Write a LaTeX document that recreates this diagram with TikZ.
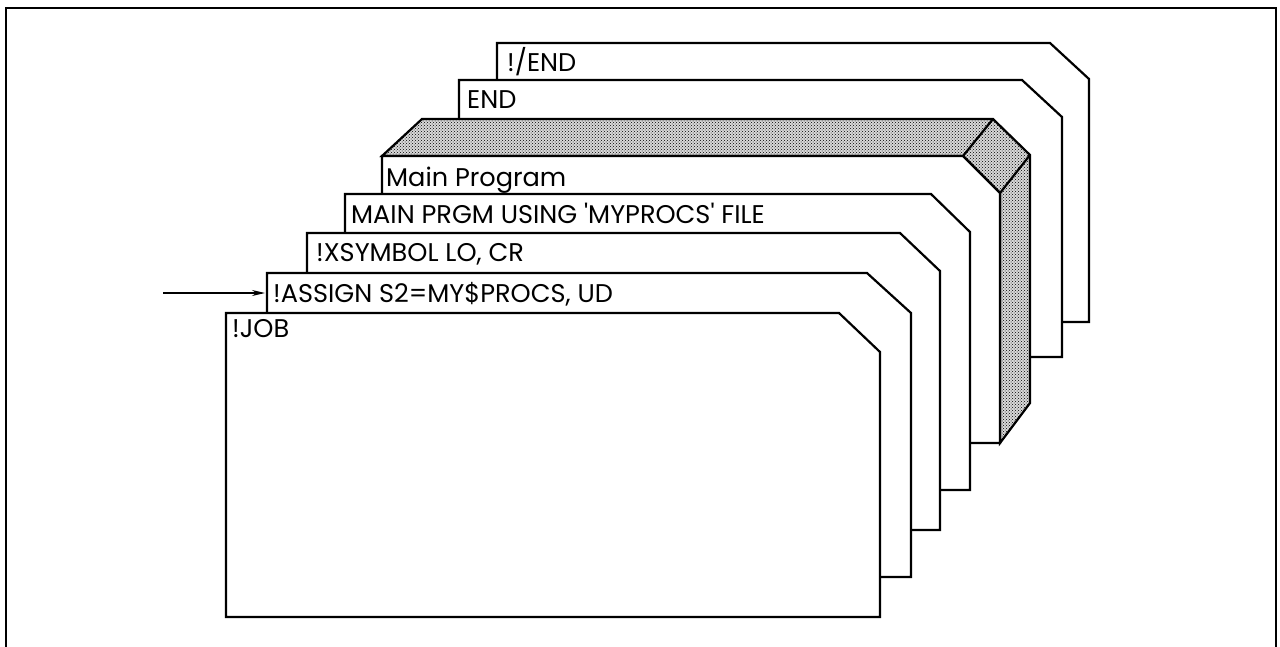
\documentclass[tikz,border=0pt]{standalone}
\usepackage{fontspec}
\setmainfont{Poppins}
\usetikzlibrary{patterns,arrows.meta}
\tikzset{
  cardline/.style={line width=2.2pt, draw=black, fill=white, line join=miter},
  deck/.style={line width=2.2pt, draw=black, preaction={fill=gray!30}, pattern=crosshatch dots, pattern color=black},
  lbl/.style={inner sep=0pt, anchor=base west, font=\fontsize{25.6}{27}\selectfont},
  frame/.style={line width=2.8pt},
  feed/.style={line width=1.4pt, -{Stealth[length=13pt,width=6pt]}}
}
% l t r b chamfer-x chamfer-y
\newcommand\cardshape[6]{%
  \filldraw[cardline] (#1,#4) -- (#1,#2) -- (#5,#2) -- (#3,#6) -- (#3,#4) -- cycle;}
\begin{document}
\begin{tikzpicture}[x=1pt,y=-1pt]
\useasboundingbox (0,0) rectangle (1280,646);
\draw[frame] (6,652) -- (6,8) -- (1276,8) -- (1276,652);
% back cards
\cardshape{497}{43}{1089}{322}{1050}{79}
\node[lbl] (tslend) at (507,71) {!/END};
\cardshape{459}{80}{1062}{357}{1022}{117}
\node[lbl] (tend) at (467,108) {END};
% main program deck thickness
\filldraw[deck] (382,156) -- (422,119) -- (993,119) -- (1030,155) -- (1030,403) -- (1000,443) -- (1000,193) -- (963,156) -- cycle;
\draw[line width=2.2pt] (963,156) -- (993,119);
\draw[line width=2.2pt] (1000,193) -- (1030,155);
\cardshape{382}{156}{1000}{443}{963}{193}
\node[lbl] (tmainprog) at (386,186) {Main Program};
\cardshape{345}{194}{970}{490}{931}{232}
\node[lbl] (tmainprgm) at (351,223) {MAIN PRGM USING \textquotesingle MYPROCS\textquotesingle\ FILE};
\cardshape{307}{233}{940}{530}{900}{271}
\node[lbl] (txsym) at (316,261) {!XSYMBOL LO, CR};
\cardshape{267}{273}{911}{577}{867}{313}
\node[lbl] (tassign) at (273,302) {!ASSIGN S2=MY\$PROCS, UD};
\cardshape{226}{313}{880}{617}{839}{352}
\node[lbl] (tjob) at (232,337) {!JOB};
% arrow
\coordinate (feedtail) at (163,293);
\coordinate (feedhead) at (265,293);
\draw[feed] (feedtail) -- (feedhead);
\end{tikzpicture}
\end{document}
